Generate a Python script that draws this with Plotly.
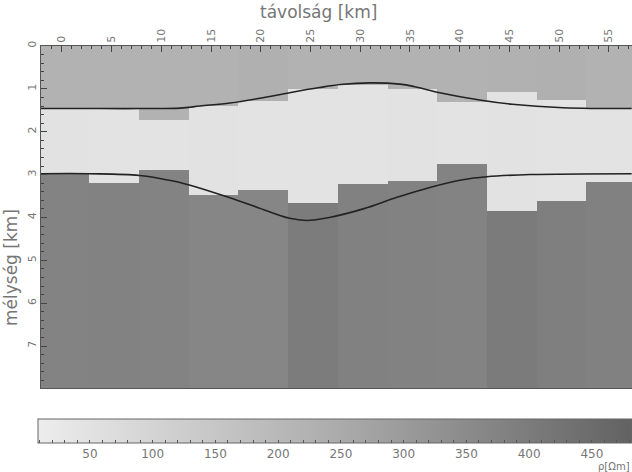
import plotly.graph_objects as go

# Station (column centre) positions along the profile, km
stations = [0.25, 5.25, 10.25, 15.25, 20.25, 25.25, 30.25, 35.25, 40.25, 45.25, 50.25, 55.25]
col_width = 5.0

# Layer interfaces per column (depth, km)
top_base = [1.47, 1.45, 1.72, 1.40, 1.28, 1.00, 0.90, 1.00, 1.30, 1.07, 1.25, 1.45]
mid_base = [2.98, 3.20, 2.89, 3.47, 3.37, 3.66, 3.22, 3.14, 2.75, 3.85, 3.61, 3.18]
max_depth = 7.98

# Resistivity of each layer per column, Ohm-m
rho_top = [225, 225, 222, 225, 230, 225, 225, 225, 222, 228, 230, 225]
rho_mid = [50, 45, 45, 48, 45, 45, 45, 48, 45, 50, 45, 45]
rho_bot = [378, 380, 375, 368, 368, 398, 382, 380, 375, 402, 388, 382]

# Smooth reference interfaces
upper_x = [-2.1, 3.8, 7.8, 11.9, 13.9, 16.9, 19.9, 22.9, 25.9, 28.0, 31.0, 34.0, 35.5, 38.0, 42.0, 45.3, 50.4, 57.3]
upper_z = [1.46, 1.46, 1.46, 1.45, 1.40, 1.33, 1.22, 1.09, 0.97, 0.90, 0.86, 0.89, 0.95, 1.09, 1.26, 1.36, 1.44, 1.46]
lower_x = [-2.1, 2.8, 7.8, 11.2, 12.9, 16.2, 19.6, 22.9, 24.6, 26.9, 30.3, 33.7, 37.0, 40.3, 42.7, 47.1, 57.3]
lower_z = [2.98, 2.98, 3.02, 3.15, 3.25, 3.49, 3.76, 4.02, 4.07, 4.00, 3.80, 3.53, 3.30, 3.12, 3.05, 3.00, 2.98]

rho_min, rho_max = 8.6, 482.0
cb_vals = list(range(10, 481, 10))
cb_text = [str(v) if v % 50 == 0 else "" for v in cb_vals]

W, H = 632, 472
ml, mr, mt, mb = 41, 0, 46, 84
plot_w, plot_h = W - ml - mr, H - mt - mb

txt = "#767676"
font = "DejaVu Sans"

fig = go.Figure()

mid_thick = [b - a for a, b in zip(top_base, mid_base)]
bot_thick = [max_depth - b for b in mid_base]

for base, thick, rho in [
    ([0.0] * len(stations), top_base, rho_top),
    (top_base, mid_thick, rho_mid),
    (mid_base, bot_thick, rho_bot),
]:
    fig.add_trace(go.Bar(
        x=stations, y=thick, base=base, width=[col_width] * len(stations),
        marker=dict(color=rho, coloraxis="coloraxis", line=dict(width=0)),
        showlegend=False, hoverinfo="skip",
    ))

for xs, zs in [(upper_x, upper_z), (lower_x, lower_z)]:
    fig.add_trace(go.Scatter(
        x=xs, y=zs, mode="lines", line=dict(color="#222222", width=1.6, shape="spline"),
        showlegend=False, hoverinfo="skip",
    ))

fig.update_layout(
    width=W, height=H,
    margin=dict(l=ml, r=mr, t=mt, b=mb),
    paper_bgcolor="white", plot_bgcolor="white",
    barmode="overlay", bargap=0,
    font=dict(family=font, color=txt, size=12),
    coloraxis=dict(
        cmin=rho_min, cmax=rho_max,
        colorscale=[[0, "#ededed"], [0.5, "#acacac"], [1, "#626262"]],
        colorbar=dict(
            orientation="h",
            lenmode="pixels", len=W - 38, thickness=24,
            x=(38 - ml) / plot_w, xanchor="left",
            y=-(419 - (mt + plot_h)) / plot_h, yanchor="top",
            xpad=0, ypad=0,
            outlinecolor="#666666", outlinewidth=1,
            tickmode="array", tickvals=cb_vals, ticktext=cb_text,
            ticks="inside", ticklen=3, tickcolor="#555555",
            tickfont=dict(family=font, size=12, color=txt),
        ),
    ),
    xaxis=dict(
        range=[-2.1, 57.33], side="top",
        tickmode="linear", tick0=0, dtick=5,
        ticks="inside", ticklen=6, tickcolor="#444444", tickwidth=1,
        minor=dict(ticks="inside", dtick=1, ticklen=3, tickcolor="#444444"),
        tickangle=-90, tickfont=dict(size=11, color=txt),
        showgrid=False, zeroline=False,
        showline=True, linecolor="#555555", linewidth=1, mirror=True,
    ),
    yaxis=dict(
        range=[max_depth, 0],
        tickmode="linear", tick0=0, dtick=1,
        ticks="inside", ticklen=6, tickcolor="#444444", tickwidth=1,
        minor=dict(ticks="inside", dtick=0.2, ticklen=3, tickcolor="#444444"),
        tickangle=-90, tickfont=dict(size=11, color=txt),
        showgrid=False, zeroline=False,
        showline=True, linecolor="#555555", linewidth=1, mirror=True,
    ),
    annotations=[
        dict(text="távolság [km]", xref="paper", yref="paper",
             x=(318 - ml) / plot_w, y=1 + (mt - 12) / plot_h,
             xanchor="center", yanchor="middle", showarrow=False,
             font=dict(size=17, color=txt, family=font)),
        dict(text="mélység [km]", xref="paper", yref="paper",
             x=-(ml - 11) / plot_w, y=1 - (268 - mt) / plot_h,
             xanchor="center", yanchor="middle", showarrow=False, textangle=-90,
             font=dict(size=17, color=txt, family=font)),
        dict(text="ρ[Ωm]", xref="paper", yref="paper",
             x=1.0, y=-(466 - (mt + plot_h)) / plot_h,
             xanchor="right", yanchor="middle", showarrow=False,
             font=dict(size=10, color=txt, family=font)),
    ],
)

fig.write_html("out.html")
